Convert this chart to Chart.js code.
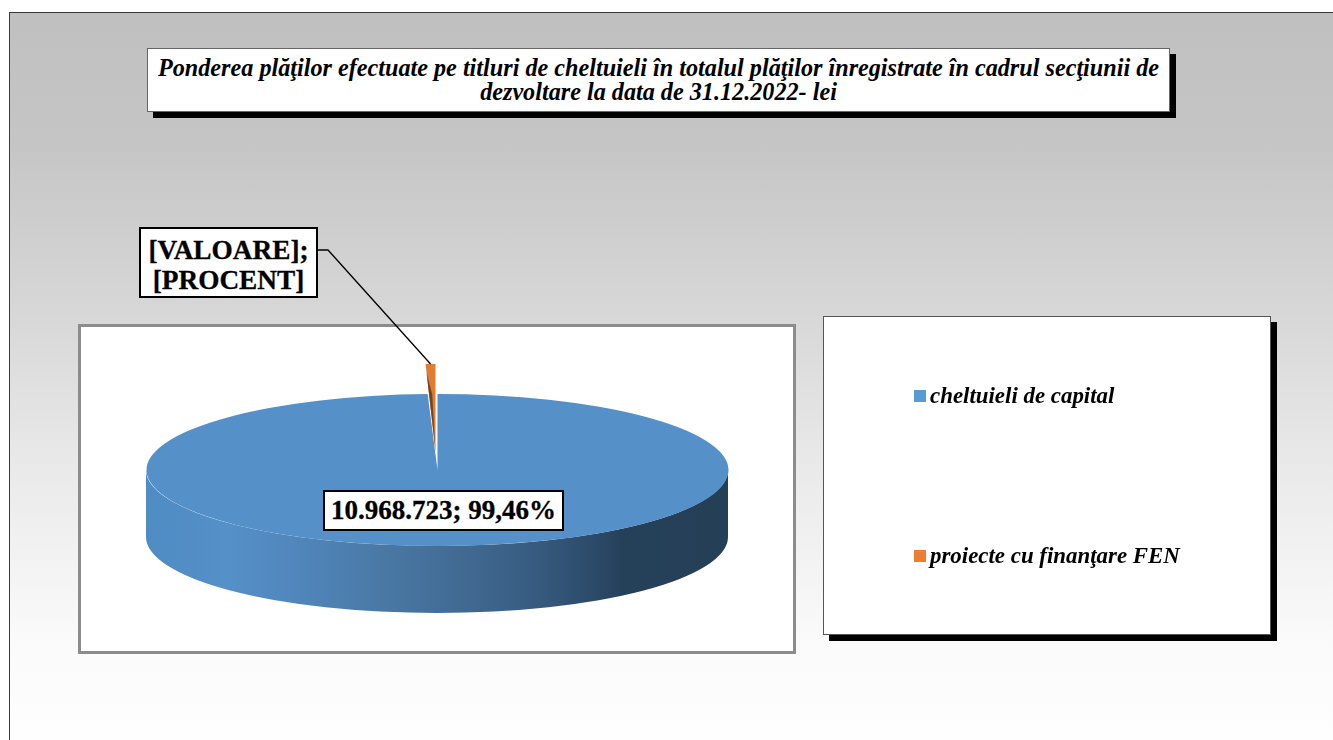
<!DOCTYPE html>
<html lang="ro">
<head>
<meta charset="utf-8">
<title>Ponderea plăţilor</title>
<script src="https://cdn.jsdelivr.net/npm/chart.js@4"></script>
<style>
html,body{margin:0;padding:0;background:#fff;width:1333px;height:740px;overflow:hidden}
body{position:relative;font-family:"Liberation Serif",serif;color:#000}
.abs{position:absolute;box-sizing:border-box}
#bg{left:9px;top:12px;width:1324px;height:728px;border-left:1px solid #3a3a3a;border-top:1px solid #3a3a3a;background:linear-gradient(#c0c0c0 0%,#c5c5c5 17.7%,#d8d8d8 42.3%,#eaeaea 63%,#fafafa 86%,#fefefe 100%)}
#titleBox{left:147px;top:48px;width:1023px;height:64px;background:#fff;border:1px solid #666;box-shadow:6px 6px 0 #000;display:flex;align-items:center;justify-content:center;text-align:center;font:italic bold 24.2px/24px "Liberation Serif",serif;padding:0 5px}
#plotBox{left:78px;top:324px;width:718px;height:330px;background:#fff;border:3px solid #8c8c8c}
#legendBox{left:823px;top:316px;width:448px;height:319px;background:#fff;border:1px solid #555;box-shadow:6px 6px 0 #000}
.legItem{display:flex;align-items:center;font:italic bold 22.9px/24px "Liberation Serif",serif;white-space:nowrap}
.legMark{display:inline-block;width:12px;height:12px;margin-right:4px}
.dataLabel{background:#fff;border:2px solid #000;font:bold 27px/30px "Liberation Serif",serif;text-align:center;white-space:pre-line;-webkit-text-stroke:0.3px #000}
canvas{position:absolute;left:0;top:0}
</style>
</head>
<body>
<div id="bg" class="abs"></div>
<div id="titleBox" class="abs"></div>
<div id="plotBox" class="abs"></div>
<div id="legendBox" class="abs"></div>
<canvas id="pie" width="1333" height="740"></canvas>
<div id="labelFen" class="abs dataLabel" style="left:139px;top:227px;width:179px;height:71px;padding-top:6px;font-size:27.3px"></div>
<div id="labelCap" class="abs dataLabel" style="left:323px;top:490px;width:241px;height:41px;padding-top:3px"></div>
<script>
const chartTitle = "Ponderea plăţilor efectuate pe titluri de cheltuieli în totalul plăţilor înregistrate în cadrul secţiunii de dezvoltare la data de 31.12.2022- lei";
const categories = ["cheltuieli de capital", "proiecte cu finanţare FEN"];
const values = [10968723, 59557];
const sliceLabels = ["10.968.723; 99,46%", "[VALOARE];\n[PROCENT]"];
const sliceColors = ["#5590C8", "#E07C34"];
const legendColors = ["#5B9BD5", "#ED7D31"];

document.getElementById("titleBox").textContent = chartTitle;
document.getElementById("labelCap").textContent = sliceLabels[0];
document.getElementById("labelFen").textContent = sliceLabels[1];

const legendTops = [384, 544];
categories.forEach((c, i) => {
  const row = document.createElement("div");
  row.className = "abs legItem";
  row.style.left = "914px";
  row.style.top = legendTops[i] + "px";
  const mark = document.createElement("span");
  mark.className = "legMark";
  mark.style.background = legendColors[i];
  row.appendChild(mark);
  row.appendChild(document.createTextNode(c));
  document.body.appendChild(row);
});

const FACE_Y = 470, FACE_RY = 76, DEPTH = 67;
const FEN_TIP_Y = 453, FEN_RY = 89, FEN_DX = -1.5;

const pie3d = {
  id: "pie3d",
  beforeDatasetsDraw(chart) {
    const ctx = chart.ctx;
    const arcs = chart.getDatasetMeta(0).data;
    const blue = arcs[0], fen = arcs[1];
    const R = blue.outerRadius, cx = blue.x;
    const ky = FACE_RY / R, kf = FEN_RY / R;

    // side wall of the cylinder
    const g = ctx.createLinearGradient(cx - R, 0, cx + R, 0);
    [[0, "#4f8cc3"], [0.14, "#5590c8"], [0.27, "#5085ba"], [0.4, "#4a79a6"], [0.5, "#446f99"],
     [0.64, "#3a5f85"], [0.76, "#2d4c6c"], [0.82, "#254059"], [1, "#243f56"]].forEach(s => g.addColorStop(s[0], s[1]));
    ctx.save();
    ctx.beginPath();
    ctx.ellipse(cx, FACE_Y + DEPTH, R, FACE_RY, 0, Math.PI, 0, true);
    ctx.lineTo(cx + R, FACE_Y);
    ctx.ellipse(cx, FACE_Y, R, FACE_RY, 0, 0, Math.PI, false);
    ctx.closePath();
    ctx.fillStyle = g;
    ctx.fill();
    ctx.restore();

    // top face of the large slice
    ctx.save();
    ctx.translate(0, FACE_Y);
    ctx.scale(1, ky);
    ctx.translate(0.5, -blue.y);
    blue.draw(ctx);
    ctx.restore();

    // exploded small slice
    ctx.save();
    ctx.translate(0, FEN_TIP_Y);
    ctx.scale(1, kf);
    ctx.translate(FEN_DX, -fen.y);
    fen.draw(ctx);
    ctx.restore();

    const pt = (a, r) => [fen.x + FEN_DX + r * Math.cos(a), FEN_TIP_Y + kf * r * Math.sin(a)];
    const a0 = fen.startAngle, a1 = fen.endAngle, am = (a0 + a1) / 2;

    // shaded inner face of the small slice
    ctx.save();
    ctx.beginPath();
    ctx.moveTo(...pt(a0, R * 0.9));
    ctx.lineTo(...pt(am, R * 0.66));
    ctx.lineTo(...pt(am, R * 0.06));
    ctx.closePath();
    ctx.fillStyle = "#74461f";
    ctx.fill();
    ctx.restore();

    // leader line
    const top = pt(am, R);
    ctx.save();
    ctx.beginPath();
    ctx.moveTo(317, 250);
    ctx.lineTo(328, 250);
    ctx.lineTo(top[0], top[1]);
    ctx.strokeStyle = "#000";
    ctx.lineWidth = 1.3;
    ctx.stroke();
    ctx.restore();
    return false;
  }
};

new Chart(document.getElementById("pie"), {
  type: "pie",
  data: {
    labels: categories,
    datasets: [{ data: values, backgroundColor: sliceColors, borderWidth: 0 }]
  },
  options: {
    responsive: false,
    animation: false,
    layout: { padding: { left: 146, right: 605, top: 79, bottom: 79 } },
    plugins: { legend: { display: false }, title: { display: false }, tooltip: { enabled: false } }
  },
  plugins: [pie3d]
});
</script>
</body>
</html>
